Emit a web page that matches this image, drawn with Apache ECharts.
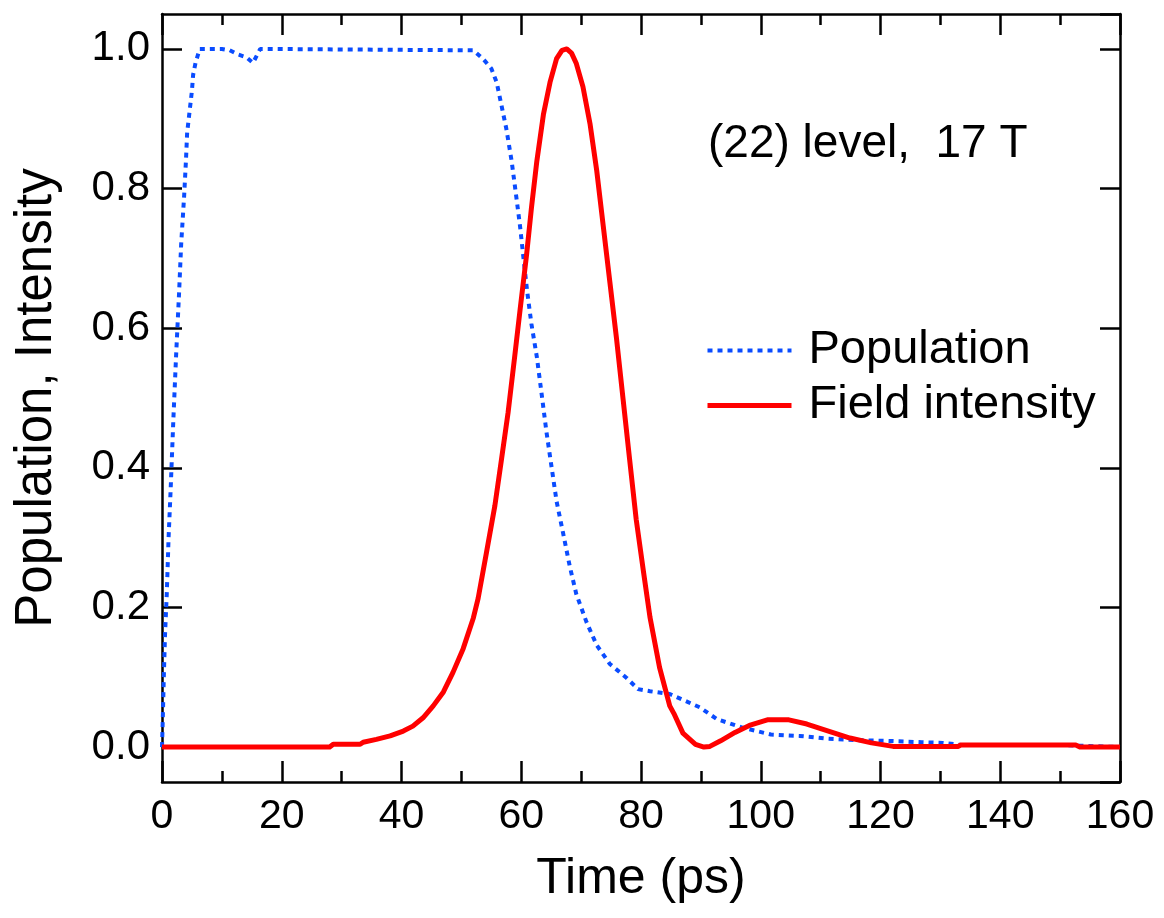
<!DOCTYPE html>
<html>
<head>
<meta charset="utf-8">
<script src="https://cdn.jsdelivr.net/npm/echarts@6/dist/echarts.min.js"></script>
<style>
html,body{margin:0;padding:0;background:#fff;}
#chart{width:1164px;height:918px;}
</style>
</head>
<body>
<div id="chart"></div>
<script>
var popTime = [0, 0.1, 0.3, 0.5, 0.8, 1.1, 1.45, 1.9, 2.35, 2.85, 3.2, 3.7, 4.0, 4.2, 4.6, 5.0, 5.2, 5.6, 6.3, 10, 11.3, 12.7, 14.1, 15.2, 16.4, 52.0, 53.6, 55.0, 55.9, 56.7, 57.5, 58.4, 59.1, 59.8, 60.3, 61.0, 61.7, 62.6, 63.4, 64.2, 65.1, 65.9, 67.0, 68.1, 69.2, 70.9, 72.6, 74.8, 77.6, 79.5, 81.5, 84.8, 89.8, 92.7, 96.9, 101.7, 106.5, 111.3, 116.0, 120.9, 126.9, 130.4, 133.5, 140, 150, 153, 160];
var popValue = [0, 0.03, 0.10, 0.16, 0.22, 0.30, 0.37, 0.47, 0.56, 0.65, 0.72, 0.79, 0.84, 0.88, 0.91, 0.94, 0.963, 0.98, 1.0, 1.0, 0.998, 0.992, 0.988, 0.98, 1.0, 0.998, 0.986, 0.972, 0.952, 0.919, 0.886, 0.839, 0.793, 0.746, 0.706, 0.652, 0.606, 0.559, 0.506, 0.452, 0.399, 0.352, 0.306, 0.259, 0.219, 0.179, 0.146, 0.119, 0.099, 0.083, 0.080, 0.076, 0.057, 0.040, 0.028, 0.018, 0.016, 0.012, 0.010, 0.009, 0.007, 0.006, 0.003, 0.003, 0.003, 0.002, 0.0];
var fieldTime = [0, 28.0, 28.6, 33.1, 33.6, 35.8, 38.1, 40.3, 41.9, 43.6, 45.3, 47.0, 48.6, 50.3, 52.0, 52.8, 54.2, 55.6, 56.7, 57.8, 58.9, 59.8, 60.9, 61.7, 62.6, 63.7, 64.8, 65.9, 66.8, 67.6, 68.4, 69.2, 70.3, 71.5, 72.6, 73.7, 74.8, 75.9, 77.0, 78.1, 79.2, 80.4, 81.5, 83.1, 84.8, 85.5, 87.0, 89.1, 90.5, 91.5, 93.3, 95.7, 98.1, 101.1, 104.7, 107.7, 111.3, 114.9, 118.5, 122.1, 133.0, 133.4, 152.6, 153.3, 160];
var fieldValue = [0, 0, 0.004, 0.004, 0.007, 0.011, 0.016, 0.023, 0.030, 0.042, 0.059, 0.079, 0.107, 0.141, 0.185, 0.213, 0.279, 0.346, 0.412, 0.479, 0.559, 0.626, 0.706, 0.772, 0.839, 0.906, 0.952, 0.986, 0.998, 1.0, 0.994, 0.979, 0.946, 0.892, 0.826, 0.746, 0.666, 0.586, 0.499, 0.412, 0.326, 0.252, 0.186, 0.114, 0.059, 0.048, 0.020, 0.004, 0.0, 0.001, 0.009, 0.021, 0.031, 0.039, 0.039, 0.033, 0.023, 0.013, 0.006, 0.001, 0.001, 0.003, 0.003, 0.0, 0.0];
var xTicks = [0, 20, 40, 60, 80, 100, 120, 140, 160];
var yTicks = ['0.0', '0.2', '0.4', '0.6', '0.8', '1.0'];
var seriesNames = ['Population', 'Field intensity'];
var annotation = '(22) level,  17 T';

function zip(a, b) { return a.map(function (v, i) { return [v, b[i]]; }); }

var FONT = '"Liberation Sans", Arial, Helvetica, sans-serif';
var BLUE = '#0a4cff', RED = '#ff0000';
var chart = echarts.init(document.getElementById('chart'), null, {renderer: 'canvas'});
var axisLineStyle = {color: '#000', width: 2.5};
var tickStyle = {color: '#000', width: 2.5};

var yLabelFormatter = function (v) {
  var s = (Math.round(v * 10) / 10).toFixed(1);
  return yTicks.indexOf(s) >= 0 && Math.abs(v - parseFloat(s)) < 1e-6 ? s : '';
};

chart.setOption({
  animation: false,
  backgroundColor: '#fff',
  textStyle: {fontFamily: FONT},
  grid: {left: 162, right: 44, top: 14, bottom: 136, containLabel: false},
  title: {
    text: annotation,
    left: 703, top: 116,
    textStyle: {fontFamily: FONT, fontSize: 46, fontWeight: 'normal', color: '#000'}
  },
  legend: {
    orient: 'vertical',
    left: 700, top: 322,
    itemWidth: 84, itemHeight: 14, itemGap: 8,
    itemStyle: {opacity: 0},
    textStyle: {fontFamily: FONT, fontSize: 47, color: '#000', padding: [0, 0, 0, 12]},
    data: [
      {name: seriesNames[0], lineStyle: {color: BLUE, width: 4, type: [5, 5], cap: 'butt'}},
      {name: seriesNames[1], lineStyle: {color: RED, width: 5}}
    ]
  },
  xAxis: [{
    type: 'value', min: xTicks[0], max: xTicks[xTicks.length - 1], interval: 20,
    position: 'bottom',
    axisLine: {show: true, onZero: false, lineStyle: axisLineStyle},
    axisTick: {show: true, inside: true, length: 21, lineStyle: tickStyle},
    minorTick: {show: true, splitNumber: 2, length: 11, lineStyle: tickStyle},
    splitLine: {show: false},
    axisLabel: {fontFamily: FONT, fontSize: 41, color: '#000', margin: 14},
    name: 'Time (ps)', nameLocation: 'middle', nameGap: 72,
    nameTextStyle: {fontFamily: FONT, fontSize: 50, color: '#000'}
  }, {
    type: 'value', min: xTicks[0], max: xTicks[xTicks.length - 1], interval: 20,
    position: 'top',
    axisLine: {show: true, onZero: false, lineStyle: axisLineStyle},
    axisTick: {show: true, inside: true, length: 21, lineStyle: tickStyle},
    minorTick: {show: true, splitNumber: 2, length: 11, lineStyle: tickStyle},
    splitLine: {show: false},
    axisLabel: {show: false}
  }],
  yAxis: [{
    type: 'value', min: -0.05, max: 1.05, splitNumber: 5,
    position: 'left',
    axisLine: {show: true, onZero: false, lineStyle: axisLineStyle},
    axisTick: {show: true, inside: true, length: 20, lineStyle: tickStyle},
    splitLine: {show: false},
    axisLabel: {fontFamily: FONT, fontSize: 42, color: '#000', margin: 12, formatter: yLabelFormatter, showMinLabel: false, showMaxLabel: false},
    name: 'Population, Intensity', nameLocation: 'middle', nameGap: 100,
    nameTextStyle: {fontFamily: FONT, fontSize: 51, color: '#000'}
  }, {
    type: 'value', min: -0.05, max: 1.05, splitNumber: 5,
    position: 'right',
    axisLine: {show: true, onZero: false, lineStyle: axisLineStyle},
    axisTick: {show: true, inside: true, length: 20, lineStyle: tickStyle},
    splitLine: {show: false},
    axisLabel: {show: false}
  }],
  series: [{
    name: seriesNames[0], type: 'line', xAxisIndex: 0, yAxisIndex: 0,
    data: zip(popTime, popValue),
    showSymbol: false, symbol: 'none', smooth: false,
    lineStyle: {color: BLUE, width: 4, type: [5, 5], cap: 'butt'},
    itemStyle: {color: BLUE},
    z: 2
  }, {
    name: seriesNames[1], type: 'line', xAxisIndex: 0, yAxisIndex: 0,
    data: zip(fieldTime, fieldValue),
    showSymbol: false, symbol: 'none', smooth: false,
    lineStyle: {color: RED, width: 5, join: 'round'},
    itemStyle: {color: RED},
    z: 3
  }]
});
</script>
</body>
</html>
